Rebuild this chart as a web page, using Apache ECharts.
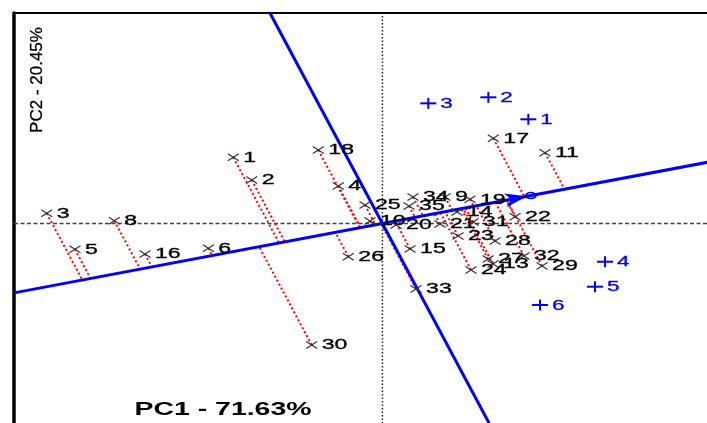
<!DOCTYPE html>
<html>
<head>
<meta charset="utf-8">
<script src="https://cdn.jsdelivr.net/npm/echarts@6/dist/echarts.min.js"></script>
<style>
  html, body { margin: 0; padding: 0; background: #fff; }
  #chart { width: 707px; height: 423px; }
</style>
</head>
<body>
<div id="chart"></div>
<script>
// GGE biplot, average-environment coordination view (PC1 vs PC2 scores)
const genotypeNames = ['1','2','3','4','5','6','8','9','10','11','13','14','15','16','17','18','19','20','21','22','23','24','25','26','27','28','29','30','31','32','33','34','35'];
const genotypePC1 = [-1.619,-1.419,-3.645,-0.479,-3.338,-1.890,-2.911,0.680,-0.135,1.765,1.201,0.810,0.300,-2.578,1.204,-0.696,0.951,0.148,0.625,1.440,0.821,0.962,-0.189,-0.370,1.147,1.223,1.733,-0.768,0.984,1.537,0.365,0.332,0.289];
const genotypePC2 = [1.211,0.796,0.187,0.686,-0.472,-0.454,0.051,0.485,0.046,1.295,-0.741,0.210,-0.466,-0.558,1.558,1.344,0.443,-0.027,-0.009,0.124,-0.229,-0.850,0.338,-0.607,-0.649,-0.320,-0.777,-2.222,0.027,-0.594,-1.198,0.485,0.320];

const environmentNames = ['1','2','3','4','5','6'];
const environmentPC1 = [1.584,1.150,0.498,2.417,2.308,1.711];
const environmentPC2 = [1.906,2.308,2.198,-0.699,-1.156,-1.491];

const axisTitles = ['PC1 - 71.63%', 'PC2 - 20.45%'];

const X_MIN = -4, X_MAX = 3.6, Y_MIN = -3.85, Y_MAX = 3.85;

// average environment = mean of environment scores
const mean = a => a.reduce((s, v) => s + v, 0) / a.length;
const avgPC1 = mean(environmentPC1);
const avgPC2 = mean(environmentPC2);
const avgLen = Math.hypot(avgPC1, avgPC2);
const ux = avgPC1 / avgLen, uy = avgPC2 / avgLen;   // AEA abscissa direction
const vx = uy, vy = -ux;                             // AEA ordinate direction

const BLUE = '#0000ff';
const TEXT_STRETCH = 1.65;

function line(a, b, style) {
  return { type: 'line', shape: { x1: a[0], y1: a[1], x2: b[0], y2: b[1] }, style: style };
}

const chart = echarts.init(document.getElementById('chart'), null, { renderer: 'canvas' });

chart.setOption({
  animation: false,
  backgroundColor: '#fff',
  grid: { left: 14, top: 13, width: 700, height: 421, containLabel: false, outerBoundsMode: 'none' },
  xAxis: {
    type: 'value', min: X_MIN, max: X_MAX, position: 'top',
    axisLine: { show: true, onZero: false, lineStyle: { color: '#000', width: 2 } },
    axisTick: { show: false }, axisLabel: { show: false }, splitLine: { show: false }
  },
  yAxis: {
    type: 'value', min: Y_MIN, max: Y_MAX, position: 'left',
    axisLine: { show: true, onZero: false, lineStyle: { color: '#000', width: 3.5 } },
    axisTick: { show: false }, axisLabel: { show: false }, splitLine: { show: false }
  },
  graphic: [
    {
      type: 'text', x: 223, y: 410, scaleX: 1.58,
      style: { text: axisTitles[0], fill: '#000', font: 'bold 18px "Liberation Sans", Arial, sans-serif', align: 'center', verticalAlign: 'middle' }
    },
    {
      type: 'text', x: 37, y: 80, rotation: Math.PI / 2,
      style: { text: axisTitles[1], fill: '#000', stroke: '#000', lineWidth: 0.3, font: '17px "Liberation Sans", Arial, sans-serif', align: 'center', verticalAlign: 'middle' }
    }
  ],
  series: [
    // origin cross-hair
    {
      type: 'custom', z: 1, data: [[0, 0]], silent: true,
      renderItem: function (params, api) {
        return {
          type: 'group', children: [
            line(api.coord([0, Y_MIN]), api.coord([0, Y_MAX]), { stroke: '#222', lineWidth: 1.5, lineDash: [1.5, 2] }),
            line(api.coord([X_MIN, 0]), api.coord([X_MAX, 0]), { stroke: '#444', lineWidth: 1.3, lineDash: [4, 2.5] })
          ]
        };
      }
    },
    // projections of genotypes onto the AEA abscissa
    {
      type: 'custom', z: 2, silent: true,
      data: genotypePC1.map((x, i) => [x, genotypePC2[i]]),
      renderItem: function (params, api) {
        const gx = api.value(0), gy = api.value(1);
        const d = gx * ux + gy * uy;
        const g = api.coord([gx, gy]);
        const p = api.coord([d * ux, d * uy]);
        return line(g, p, { stroke: '#ff0000', lineWidth: 2, lineDash: [2, 2.5] });
      }
    },
    // AEA abscissa, ordinate, arrow and average-environment circle
    {
      type: 'custom', z: 3, data: [[avgPC1, avgPC2]], silent: true,
      renderItem: function (params, api) {
        const tA = X_MIN / ux, tB = X_MAX / ux;
        const sA = Y_MAX / vy, sB = Y_MIN / vy;
        const o = api.coord([0, 0]);
        const m = api.coord([api.value(0), api.value(1)]);
        let dx = m[0] - o[0], dy = m[1] - o[1];
        const L = Math.hypot(dx, dy); dx /= L; dy /= L;
        const tip = [m[0] - dx * 4, m[1] - dy * 4];
        const back = [tip[0] - dx * 22, tip[1] - dy * 22];
        const nx = -dy, ny = dx;
        return {
          type: 'group', children: [
            line(api.coord([tA * ux, tA * uy]), api.coord([tB * ux, tB * uy]), { stroke: BLUE, lineWidth: 3 }),
            line(api.coord([sA * vx, sA * vy]), api.coord([sB * vx, sB * vy]), { stroke: BLUE, lineWidth: 3 }),
            {
              type: 'polygon',
              shape: { points: [tip, [back[0] + nx * 7, back[1] + ny * 7], [back[0] + dx * 6, back[1] + dy * 6], [back[0] - nx * 7, back[1] - ny * 7]] },
              style: { fill: BLUE }
            },
            {
              type: 'circle', x: m[0], y: m[1], scaleX: 1.6,
              shape: { cx: 0, cy: 0, r: 3 },
              style: { fill: 'none', stroke: BLUE, lineWidth: 1.5 }
            }
          ]
        };
      }
    },
    // environments
    {
      type: 'custom', z: 4, silent: true,
      data: environmentPC1.map((x, i) => [x, environmentPC2[i]]),
      renderItem: function (params, api) {
        const c = api.coord([api.value(0), api.value(1)]);
        return {
          type: 'group', children: [
            line([c[0] - 8, c[1]], [c[0] + 8, c[1]], { stroke: BLUE, lineWidth: 2 }),
            line([c[0], c[1] - 5.5], [c[0], c[1] + 5.5], { stroke: BLUE, lineWidth: 2 }),
            {
              type: 'text', x: c[0] + 12, y: c[1] + 0.5, scaleX: 1.5,
              style: { text: environmentNames[params.dataIndex], fill: BLUE, stroke: BLUE, lineWidth: 0.3, font: '15px "Liberation Sans", Arial, sans-serif', align: 'left', verticalAlign: 'middle' }
            }
          ]
        };
      }
    },
    // genotypes
    {
      type: 'custom', z: 5, silent: true,
      data: genotypePC1.map((x, i) => [x, genotypePC2[i]]),
      renderItem: function (params, api) {
        const c = api.coord([api.value(0), api.value(1)]);
        const st = { stroke: '#333', lineWidth: 1.2 };
        return {
          type: 'group', children: [
            line([c[0] - 5.5, c[1] - 3.5], [c[0] + 5.5, c[1] + 3.5], st),
            line([c[0] - 5.5, c[1] + 3.5], [c[0] + 5.5, c[1] - 3.5], st),
            {
              type: 'text', x: c[0] + 10, y: c[1] + 0.5, scaleX: TEXT_STRETCH,
              style: { text: genotypeNames[params.dataIndex], fill: '#000', stroke: '#000', lineWidth: 0.3, font: '14px "Liberation Sans", Arial, sans-serif', align: 'left', verticalAlign: 'middle' }
            }
          ]
        };
      }
    }
  ]
});
</script>
</body>
</html>
